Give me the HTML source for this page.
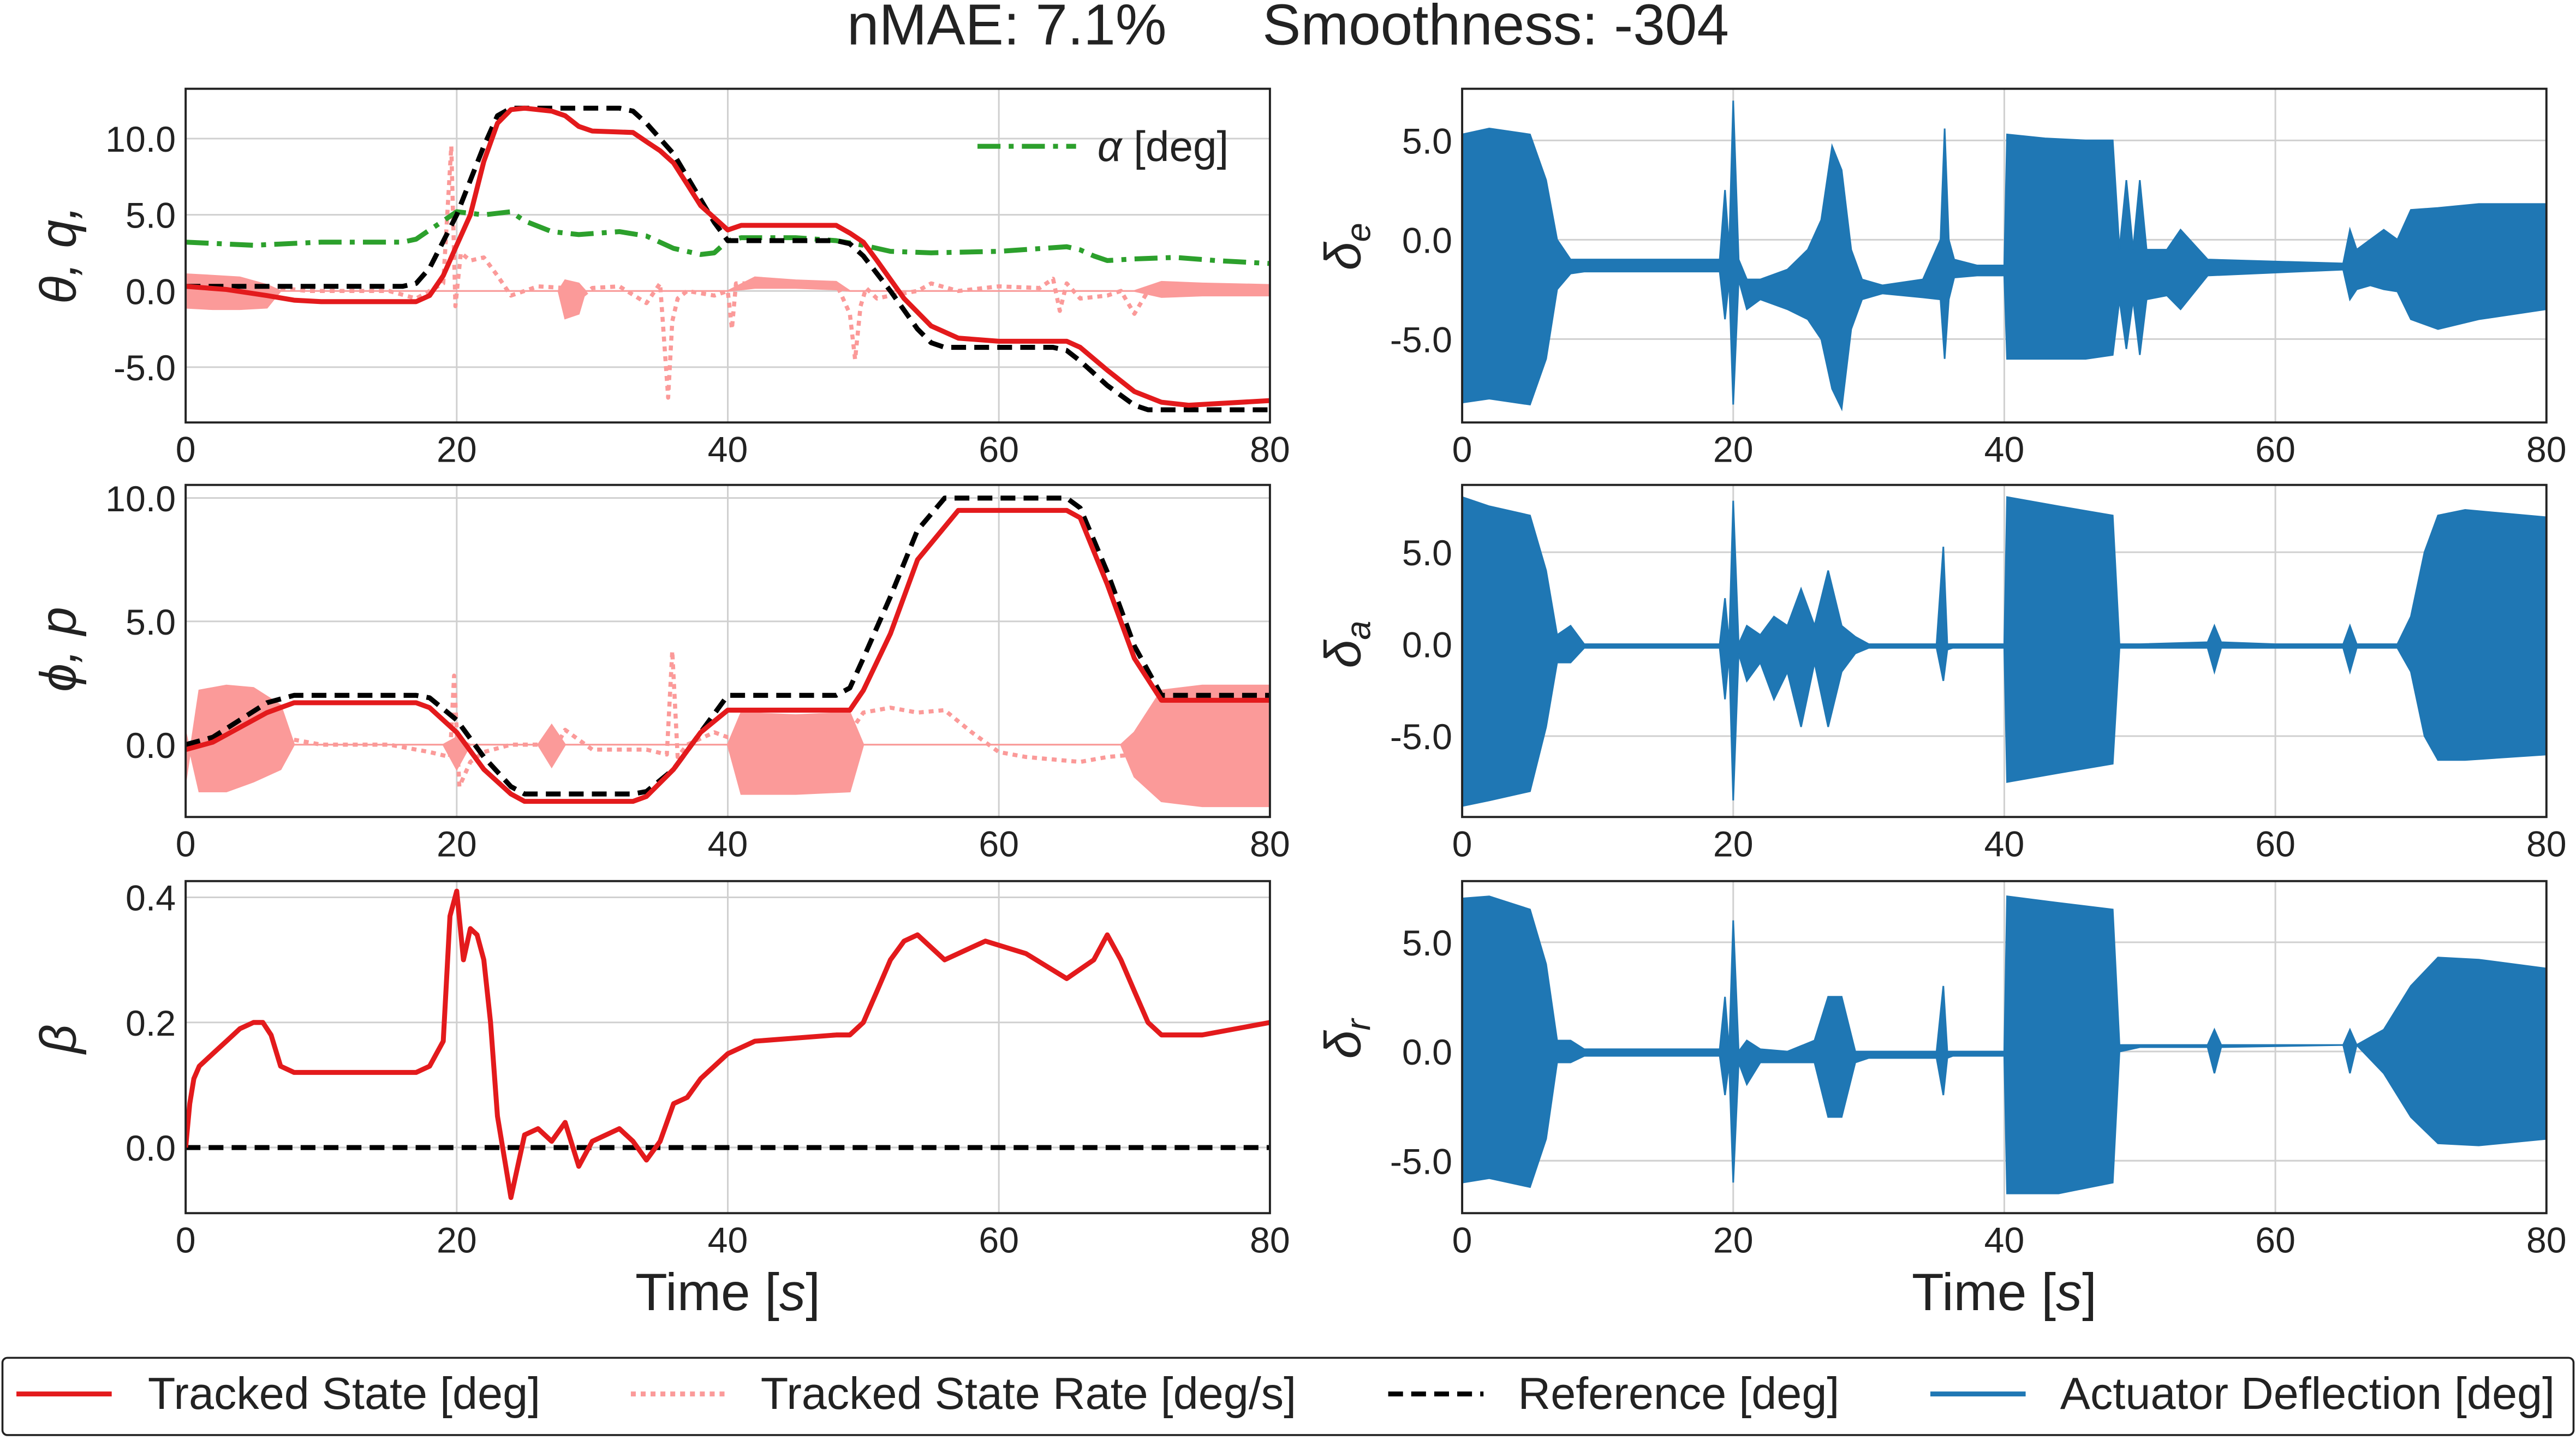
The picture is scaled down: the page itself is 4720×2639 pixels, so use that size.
<!DOCTYPE html>
<html><head><meta charset="utf-8"><style>
html,body{margin:0;padding:0;background:#fff}
svg{display:block}
text{font-family:"Liberation Sans","DejaVu Sans",sans-serif;fill:#222}
</style></head><body>
<svg id="fig" width="4720" height="2639" viewBox="0 0 1568 876" preserveAspectRatio="none" xmlns="http://www.w3.org/2000/svg">
<rect width="1568" height="876" fill="#fff"/>
<text x="784" y="27" font-size="35" text-anchor="middle" xml:space="preserve">nMAE: 7.1%      Smoothness: -304</text>
<g id="plots"></g>
<g>
<rect x="1.5" y="826" width="1565" height="47" fill="#fff" stroke="#222" stroke-width="1.2" rx="3"/>
<g><line x1="10" y1="848" x2="68" y2="848" stroke="#e31a1c" stroke-width="3"/><text x="90" y="857" font-size="27.5">Tracked State [deg]</text></g>
<g><line x1="384" y1="848" x2="442" y2="848" stroke="#fb9a99" stroke-width="3" stroke-dasharray="3,3"/><text x="463" y="857" font-size="27.5">Tracked State Rate [deg/s]</text></g>
<g><line x1="845" y1="848" x2="903" y2="848" stroke="#000" stroke-width="3" stroke-dasharray="9,5"/><text x="924" y="857" font-size="27.5">Reference [deg]</text></g>
<g><line x1="1175" y1="848" x2="1233" y2="848" stroke="#1f77b4" stroke-width="3"/><text x="1254" y="857" font-size="27.5">Actuator Deflection [deg]</text></g>
</g>
</svg>
<script>
// ---- data ----
const xTicks=[0,20,40,60,80];
// theta panel
const thRefT=[0,16,17,18,20,22,23,24,32,33,34,36,38,39,40,48,49,50,52,54,55,56,64,65,66,68,70,71,80];
const thRefV=[0.3,0.3,0.5,1.5,5,9.5,11.5,12,12,11.8,11,9,6,4.5,3.3,3.3,3.1,2.3,0,-2.5,-3.4,-3.7,-3.7,-3.9,-4.6,-6.2,-7.5,-7.8,-7.8];
const thT=[0,3,6,8,10,17,18,19,20,21,22,23,24,25,27,28,29,30,33,34,35,36,37,38,39,40,41,45,48,49,50,51,53,55,57,60,65,66,68,70,72,74,80];
const thV=[0.3,0.1,-0.3,-0.6,-0.7,-0.7,-0.3,1,3,5,8.5,11,11.9,12,11.8,11.5,10.8,10.5,10.4,9.8,9.2,8.4,7,5.6,4.8,4.0,4.3,4.3,4.3,3.8,3.2,2,-0.5,-2.3,-3.1,-3.3,-3.3,-3.7,-5.2,-6.6,-7.3,-7.5,-7.2];
const alT=[0,5,10,16,17,18,19,20,22,24,25,27,29,32,34,36,38,39,40,41,42,45,48,50,52,55,60,65,66,67,68,70,73,76,80];
const alV=[3.2,3.0,3.2,3.2,3.4,4.0,4.6,5.2,5.0,5.2,4.6,3.9,3.7,3.9,3.6,2.8,2.4,2.5,3.3,3.5,3.5,3.5,3.3,3.0,2.6,2.5,2.6,2.9,2.7,2.3,2.0,2.1,2.2,2.0,1.8];
const thRateT=[7,9,12,15,17,18,19,19.6,19.9,20.3,21,22,23,24,25,26,28,29,30,32,34,35,35.6,35.9,36.3,37,39,40,40.3,40.6,48,49,49.4,49.8,50.2,51,52,54,55,57,60,63,64,64.5,65,66,68,69,70,71];
const thRateV=[0.2,0,0,0,-0.5,0,0.5,9.5,-1,2.5,2,2.2,1,-0.3,0,0.3,0.2,-0.5,0.2,0.3,-0.8,0.5,-7,-2,-0.5,0,-0.3,0,-2.5,0.5,0.5,-1.5,-4.5,-1,0.2,-0.5,-0.3,0,0.5,0,0.3,0.2,0.8,-1.3,0.5,-0.5,-0.3,0,-1.5,0];
const thBandT=[0,2,4,6,7,27.5,28,29,29.5,40,42,45,48,49,70,72,75,80];
const thBandU=[1.1,1.0,0.9,0.4,0,0,0.7,0.5,0,0,0.9,0.7,0.6,0,0,0.6,0.5,0.4];
const thBandL=[-1.1,-1.2,-1.2,-1.1,0,0,-1.8,-1.5,0,0,0.2,0.2,0.1,0,0,-0.4,-0.3,-0.3];
// phi panel
const phRefT=[0,2,4,6,8,17,18,20,22,24,25,33,34,36,38,40,48,49,50,52,54,56,65,66,68,70,72,80];
const phRefV=[0,0.3,1,1.7,2,2,1.9,1,-0.5,-1.7,-2,-2,-1.9,-1,0.5,2,2,2.3,3.5,6,8.7,10,10,9.6,7,4,2,2];
const phT=[0,2,4,6,8,17,18,20,22,24,25,33,34,36,38,40,49,50,52,54,57,65,66,68,70,72,80];
const phV=[-0.2,0.1,0.7,1.3,1.7,1.7,1.5,0.5,-1,-2,-2.3,-2.3,-2.1,-1,0.5,1.4,1.4,2.2,4.5,7.5,9.5,9.5,9.2,6.5,3.5,1.8,1.8];
const phRateT=[8,10,15,18,19.5,19.8,20.2,21,22,24,26,27,28,30,34,35.5,35.9,36.3,37,39,40,49,50,52,54,56,58,60,62,64,66,68,70];
const phRateV=[0.2,0,0,-0.3,-0.5,2.8,-1.7,-0.7,-0.3,0,0,-0.4,0.6,-0.2,-0.2,-0.4,3.8,-0.5,0,0.5,0.3,0.5,1.3,1.5,1.3,1.4,0.5,-0.3,-0.5,-0.6,-0.7,-0.5,-0.4];
const phBandT=[0,1,3,5,7,8,19,20,21,26,27,28,40,41,45,49,50,69,70,72,75,80];
const phBandU=[-1.5,2.2,2.4,2.3,1.6,0,0,0.3,0,0,0.8,0,0,1.3,1.2,1.3,0,0,0.5,2.2,2.4,2.4];
const phBandL=[0.5,-1.9,-1.9,-1.5,-1.0,0,0,-1.0,0,0,-0.9,0,0,-2.0,-2.0,-1.9,0,0,-1.3,-2.3,-2.5,-2.5];
// beta panel
const beT=[0,0.3,0.6,1,2,3,4,5,5.7,6.3,7,8,9,17,18,19,19.5,20,20.5,21,21.5,22,22.5,23,24,25,26,27,28,29,30,32,33,34,35,36,37,38,40,42,48,49,50,51,52,53,54,56,58,59,62,65,67,68,69,70,71,72,75,80];
const beV=[0,0.07,0.11,0.13,0.15,0.17,0.19,0.2,0.2,0.18,0.13,0.12,0.12,0.12,0.13,0.17,0.37,0.41,0.3,0.35,0.34,0.3,0.2,0.05,-0.08,0.02,0.03,0.01,0.04,-0.03,0.01,0.03,0.01,-0.02,0.01,0.07,0.08,0.11,0.15,0.17,0.18,0.18,0.2,0.25,0.3,0.33,0.34,0.3,0.32,0.33,0.31,0.27,0.3,0.34,0.3,0.25,0.2,0.18,0.18,0.2];
const beRefT=[0,80];
const beRefV=[0,0];
// actuators (envelopes)
const deT=[0,2,5,6.2,7,8,9,19,19.4,19.7,20,20.4,21,22,24,25.5,26.5,27.3,28,28.7,29.5,31,34,35.3,35.6,35.9,36.3,38,40,40.2,43,46,48,48.5,49,49.5,50,50.5,52,53,55,65,65.5,66,67,68,69,70,72,75,80];
const deU=[5.3,5.6,5.3,3,0,-1,-1,-1,2.5,-0.5,7,-1,-2,-2,-1.5,-0.5,1,4.7,3.5,-0.5,-2,-2.3,-2,0,5.6,0,-1,-1.3,-1.3,5.3,5.1,5.0,5.0,-0.5,3,-0.5,3,-0.5,-0.5,0.5,-1,-1.2,0.5,-0.5,0,0.5,0,1.5,1.6,1.8,1.8];
const deL=[-8.2,-8,-8.3,-6,-2.5,-1.7,-1.6,-1.6,-4,-2,-8.3,-2,-3.5,-3,-3.5,-4,-5,-7.5,-8.5,-4.5,-3,-2.7,-2.9,-3,-6,-3,-1.9,-1.8,-1.8,-6,-6,-6,-5.8,-3,-5.5,-3,-5.8,-3,-2.8,-3.5,-1.8,-1.5,-3,-2.5,-2.3,-2.5,-2.6,-4,-4.5,-4,-3.5];
const daT=[0,2,5,6.2,7,8,9,19,19.4,19.7,20,20.4,21,22,23,24,25,26,27,28,29,30,35,35.5,35.8,36.2,38,40,40.2,44,48,48.5,50,55,55.5,56,60,65,65.5,66,69,70,71,72,74,80];
const daU=[8,7.5,7,4,0.5,1,0,0,2.5,0,7.8,0,1,0.5,1.5,1,3,1,4,1,0.4,0,0,5.3,0,0,0,0,8,7.5,7,0,0,0.1,1,0.1,0,0,1,0,0,1.5,5,7,7.3,6.9];
const daL=[-8.8,-8.5,-8,-4.5,-1,-1,-0.2,-0.2,-3,-0.5,-8.5,-0.5,-2,-1,-3,-1.5,-4.5,-1,-4.5,-1.5,-0.5,-0.2,-0.2,-2,-0.3,-0.2,-0.2,-0.2,-7.5,-7,-6.5,-0.2,-0.2,-0.2,-1.5,-0.2,-0.2,-0.2,-1.5,-0.2,-0.2,-1.5,-5,-6.3,-6.3,-6];
const drT=[0,2,5,6.2,7,8,9,19,19.4,19.7,20,20.4,21,22,24,26,27,28,29,30,35,35.5,35.8,36.2,40,40.2,44,48,48.5,50,55,55.5,56,65,65.5,66,68,70,72,75,80];
const drU=[7,7.1,6.5,4,0.5,0.5,0.1,0.1,2.5,0,6,0,0.5,0.1,0,0.5,2.5,2.5,0,0,0,3,0,0,0,7.1,6.8,6.5,0.3,0.3,0.3,1,0.3,0.3,1,0.3,1,3,4.3,4.2,3.8];
const drL=[-6,-5.8,-6.2,-4,-0.5,-0.5,-0.2,-0.2,-2,-0.5,-6,-0.5,-1.5,-0.5,-0.5,-0.5,-3,-3,-0.5,-0.3,-0.3,-2,-0.3,-0.2,-0.2,-6.5,-6.5,-6,0,0.2,0.2,-1,0.2,0.3,-1,0.3,-1,-3,-4.2,-4.3,-4];

// ---- drawing ----
const NS="http://www.w3.org/2000/svg";
const root=document.getElementById('plots');
function mk(tag,attrs,parent){const e=document.createElementNS(NS,tag);for(const k in attrs)e.setAttribute(k,attrs[k]);(parent||root).appendChild(e);return e;}
function panel(cfg){
  const g=mk('g',{});
  
  
  const sx=t=>cfg.x0+(t-0)/(80-0)*(cfg.x1-cfg.x0);
  const sy=v=>cfg.y1-(v-cfg.ymin)/(cfg.ymax-cfg.ymin)*(cfg.y1-cfg.y0);
  const clip='clip-'+cfg.name;
  const cp=mk('clipPath',{id:clip},g);mk('rect',{x:cfg.x0,y:cfg.y0,width:cfg.x1-cfg.x0,height:cfg.y1-cfg.y0},cp);
  xTicks.forEach(t=>{const l=mk('line',{x1:sx(t),x2:sx(t),y1:cfg.y0,y2:cfg.y1,stroke:'#d0d0d0','stroke-width':1},g);
    const tx=mk('text',{x:sx(t),y:cfg.y1+24,'font-size':22,'text-anchor':'middle'},g);tx.textContent=t;});
  cfg.yt.forEach((v,i)=>{const l=mk('line',{x1:cfg.x0,x2:cfg.x1,y1:sy(v),y2:sy(v),stroke:'#d0d0d0','stroke-width':1},g);
    const tx=mk('text',{x:cfg.x0-6,y:sy(v)+8,'font-size':22,'text-anchor':'end'},g);tx.textContent=cfg.ytl[i];});
  const d=mk('g',{'clip-path':'url(#'+clip+')'},g);
  const line=(T,V,attrs,name)=>{const p=mk('path',Object.assign({d:T.map((t,i)=>(i?'L':'M')+sx(t).toFixed(1)+','+sy(V[i]).toFixed(1)).join(''),fill:'none','stroke-linejoin':'round'},attrs),d);};
  const band=(T,U,L,fill,name)=>{let s=T.map((t,i)=>(i?'L':'M')+sx(t).toFixed(1)+','+sy(U[i]).toFixed(1)).join('');for(let i=T.length-1;i>=0;i--)s+='L'+sx(T[i]).toFixed(1)+','+sy(L[i]).toFixed(1);const p=mk('path',{d:s+'Z',fill:fill,stroke:fill,'stroke-width':1},d);};
  cfg.draw(line,band);
  const fr=mk('rect',{x:cfg.x0,y:cfg.y0,width:cfg.x1-cfg.x0,height:cfg.y1-cfg.y0,fill:'none',stroke:'#222','stroke-width':1.3},g);
  const yl=mk('text',{x:cfg.lx,y:cfg.ly,'font-size':31,'text-anchor':'middle',transform:'rotate(-90 '+cfg.lx+' '+cfg.ly+')','font-style':'italic'},g);yl.innerHTML=cfg.label;
  if(cfg.xlabel){const xl=mk('text',{x:(cfg.x0+cfg.x1)/2,y:cfg.y1+59,'font-size':32,'text-anchor':'middle'},g);xl.innerHTML='Time [<tspan font-style="italic">s</tspan>]';}
  return {g,sx,sy};
}
const RED='#e31a1c',PINK='#fb9a99',BLUE='#1f77b4';
panel({name:'theta-panel',x0:113,x1:773,y0:54,y1:257,ymin:-8.63,ymax:13.27,yt:[-5,0,5,10],ytl:['-5.0','0.0','5.0','10.0'],lx:46,ly:155,label:'θ, q,',
  draw:(line,band)=>{band(thBandT,thBandU,thBandL,PINK,'theta-rate-oscillation');line(thRateT,thRateV,{stroke:PINK,'stroke-width':2.5,'stroke-dasharray':'3,3'},'theta-rate-line');
    line(alT,alV,{stroke:'#2ca02c','stroke-width':3,'stroke-dasharray':'14,5,3,5'},'alpha-line');line(thRefT,thRefV,{stroke:'#000','stroke-width':3,'stroke-dasharray':'9,5'},'theta-reference-line');line(thT,thV,{stroke:RED,'stroke-width':3},'theta-tracked-line');}});
const al=mk('g',{});
mk('line',{x1:595,y1:89,x2:655,y2:89,stroke:'#2ca02c','stroke-width':3,'stroke-dasharray':'14,5,3,5'},al);
const alt=mk('text',{x:668,y:98,'font-size':26},al);alt.innerHTML='<tspan font-style="italic">α</tspan> [deg]';
panel({name:'phi-panel',x0:113,x1:773,y0:295,y1:497,ymin:-2.93,ymax:10.53,yt:[0,5,10],ytl:['0.0','5.0','10.0'],lx:46,ly:395,label:'ϕ, p',
  draw:(line,band)=>{band(phBandT,phBandU,phBandL,PINK,'phi-rate-oscillation');line(phRateT,phRateV,{stroke:PINK,'stroke-width':2.5,'stroke-dasharray':'3,3'},'phi-rate-line');
    line(phRefT,phRefV,{stroke:'#000','stroke-width':3,'stroke-dasharray':'9,5'},'phi-reference-line');line(phT,phV,{stroke:RED,'stroke-width':3},'phi-tracked-line');}});
panel({name:'beta-panel',x0:113,x1:773,y0:536,y1:738,ymin:-0.105,ymax:0.426,yt:[0,0.2,0.4],ytl:['0.0','0.2','0.4'],lx:46,ly:632,label:'β',xlabel:true,
  draw:(line,band)=>{line(beRefT,beRefV,{stroke:'#000','stroke-width':3,'stroke-dasharray':'9,5'},'beta-reference-line');line(beT,beV,{stroke:RED,'stroke-width':3},'beta-tracked-line');}});
panel({name:'elevator-panel',x0:890,x1:1550,y0:54,y1:257,ymin:-9.2,ymax:7.6,yt:[-5,0,5],ytl:['-5.0','0.0','5.0'],lx:828,ly:150,label:'δ<tspan font-size="21" dy="6">e</tspan>',
  draw:(line,band)=>{band(deT,deU,deL,BLUE,'elevator-deflection');}});
panel({name:'aileron-panel',x0:890,x1:1550,y0:295,y1:497,ymin:-9.4,ymax:8.66,yt:[-5,0,5],ytl:['-5.0','0.0','5.0'],lx:828,ly:392,label:'δ<tspan font-size="21" dy="6">a</tspan>',
  draw:(line,band)=>{band(daT,daU,daL,BLUE,'aileron-deflection');}});
panel({name:'rudder-panel',x0:890,x1:1550,y0:536,y1:738,ymin:-7.4,ymax:7.8,yt:[-5,0,5],ytl:['-5.0','0.0','5.0'],lx:828,ly:632,label:'δ<tspan font-size="21" dy="6">r</tspan>',xlabel:true,
  draw:(line,band)=>{band(drT,drU,drL,BLUE,'rudder-deflection');}});
</script>
</body></html>
